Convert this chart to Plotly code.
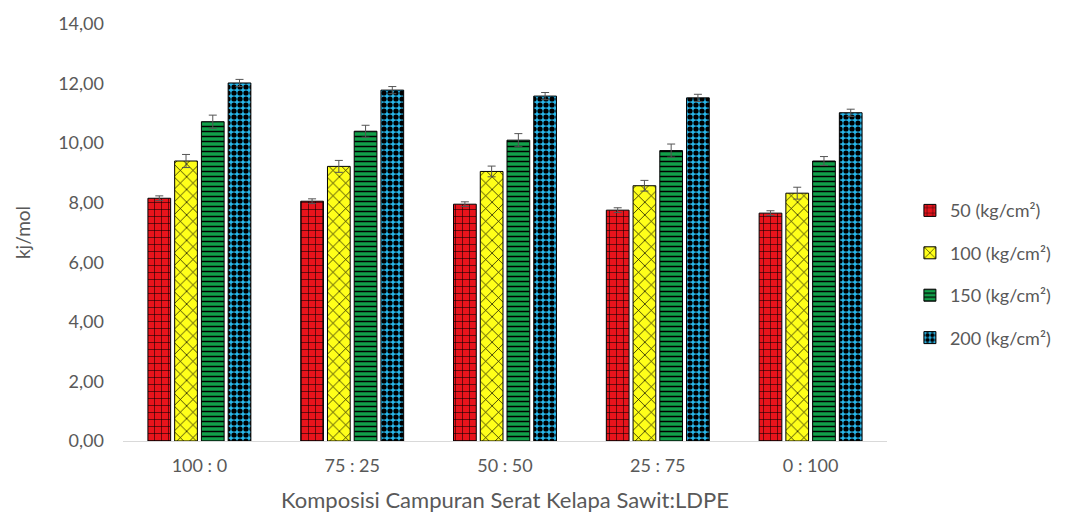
import plotly.graph_objects as go

categories = ["100 : 0", "75 : 25", "50 : 50", "25 : 75", "0 : 100"]
series_names = ["50 (kg/cm²)", "100 (kg/cm²)", "150 (kg/cm²)", "200 (kg/cm²)"]
v50 = [8.15, 8.05, 7.95, 7.75, 7.65]
v100 = [9.40, 9.22, 9.05, 8.57, 8.32]
v150 = [10.72, 10.40, 10.10, 9.75, 9.40]
v200 = [12.02, 11.78, 11.58, 11.52, 11.02]
e50 = [0.08, 0.08, 0.08, 0.08, 0.08]
e100 = [0.22, 0.20, 0.18, 0.18, 0.20]
e150 = [0.22, 0.20, 0.22, 0.22, 0.15]
e200 = [0.12, 0.12, 0.12, 0.12, 0.12]
y_ticks = [0, 2, 4, 6, 8, 10, 12, 14]
y_tick_labels = ["0,00", "2,00", "4,00", "6,00", "8,00", "10,00", "12,00", "14,00"]

styles = [
    dict(bg="#e8141c", fg="#000000", shape="+", size=7, sol=0.15),
    dict(bg="#ffff1a", fg="#000000", shape="x", size=9, sol=0.15),
    dict(bg="#12a04a", fg="#000000", shape="-", size=5, sol=0.3),
    dict(bg="#27b6ea", fg="#000000", shape=".", size=6, sol=0.6),
]

fig = go.Figure()
for name, vals, errs, st in zip(series_names, [v50, v100, v150, v200],
                                [e50, e100, e150, e200], styles):
    fig.add_trace(go.Bar(
        x=categories, y=vals, name=name, legendgroup=name,
        marker=dict(color=st["bg"],
                    line=dict(color="#000000", width=1),
                    pattern=dict(shape=st["shape"], bgcolor=st["bg"], fgcolor=st["fg"],
                                 size=st["size"], solidity=st["sol"], fillmode="replace")),
        error_y=dict(type="data", array=errs, color="#555555", thickness=1, width=4),
    ))

fig.update_layout(
    width=1068, height=526,
    margin=dict(l=123, r=175, t=22, b=85),
    paper_bgcolor="white", plot_bgcolor="white",
    barmode="group", bargap=0.3, bargroupgap=0.15,
    font=dict(family="Lato, Open Sans, sans-serif", size=18, color="#595959"),
    legend=dict(x=1.03, y=0.4, xanchor="left", yanchor="middle",
                font=dict(size=18, color="#595959"), tracegroupgap=16,
                itemwidth=30),
    xaxis=dict(title=dict(text="Komposisi Campuran Serat Kelapa Sawit:LDPE", standoff=18,
                          font=dict(size=22)),
               showline=True, linecolor="#d9d9d9", linewidth=1, ticks="",
               ticklabelstandoff=8,
               tickfont=dict(size=18, color="#595959")),
    yaxis=dict(title=dict(text="kj/mol", standoff=22, font=dict(size=19)), range=[0, 14],
               tickvals=y_ticks, ticktext=y_tick_labels, showgrid=False,
               zeroline=False, ticks="", ticklabelstandoff=18,
               tickfont=dict(size=18, color="#595959")),
)

fig.write_html("out.html")
